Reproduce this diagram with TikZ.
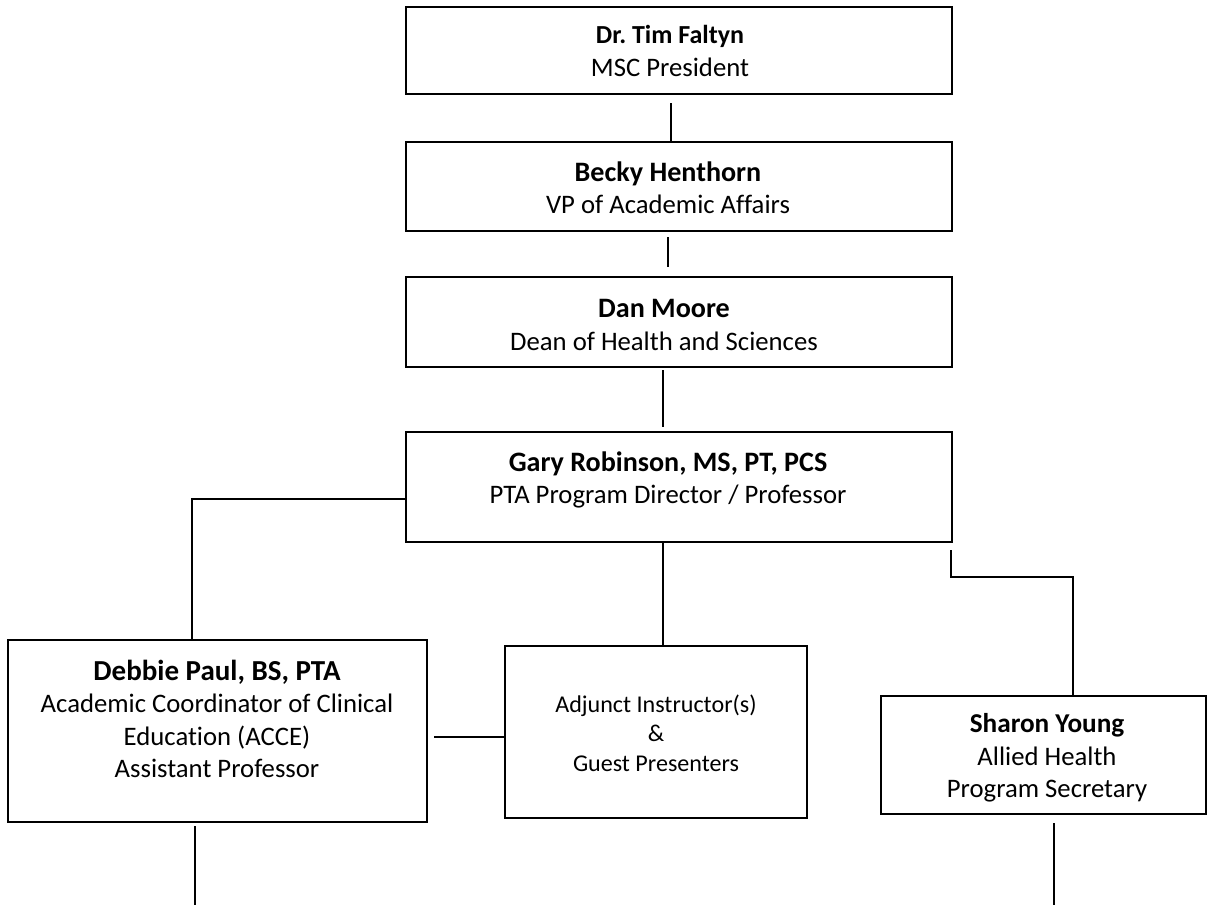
\documentclass[tikz,border=0pt]{standalone}
\usepackage{fontspec}
\setmainfont{Carlito}[Ligatures={NoCommon}]
\usetikzlibrary{fit}
\frenchspacing
\begin{document}
\begin{tikzpicture}[x=0.02cm,y=-0.02cm,
  box/.style={draw, line width=1.2pt, inner sep=0pt},
  conn/.style={line width=1.1pt},
  txt/.style={align=center, inner sep=0pt, font=\fontsize{15.2}{18.4}\selectfont},
  small/.style={align=center, inner sep=0pt, font=\fontsize{13.7}{16.8}\selectfont}]
\useasboundingbox (0,0) rectangle (1208,905);
% boxes
\node[box, fit={(406,7) (952,94)}] (b1) {};
\node[box, fit={(406,142) (952,231)}] (b2) {};
\node[box, fit={(406,277) (952,367)}] (b3) {};
\node[box, fit={(406,432) (952,542)}] (b4) {};
\node[box, fit={(8,640) (427,822)}] (b5) {};
\node[box, fit={(505,646) (807,818)}] (b6) {};
\node[box, fit={(881,696) (1206,814)}] (b7) {};
% texts
\node[txt] (t1) at (670,51) {{\fontsize{14.8}{18.4}\selectfont\bfseries Dr. Tim Faltyn}\\MSC President};
\node[txt] (t2) at (668,188) {{\fontsize{16}{18.4}\selectfont\bfseries Becky Henthorn}\\VP of Academic Affairs};
\node[txt] (t3) at (664,325) {{\fontsize{16}{18.4}\selectfont\bfseries Dan Moore}\\Dean of Health and Sciences};
\node[txt] (t4) at (668,480) {{\fontsize{16}{18.4}\selectfont\bfseries Gary Robinson, MS, PT, PCS}\\PTA Program Director / Professor};
\node[txt] (t5) at (217,719) {{\fontsize{16.5}{18.4}\selectfont\bfseries Debbie Paul, BS, PTA}\\Academic Coordinator of Clinical\\Education (ACCE)\\Assistant Professor};
\node[small] (t6) at (656,733) {Adjunct Instructor(s)\\\&\\Guest Presenters};
\node[txt] (t7) at (1047,758) {{\fontsize{15.5}{18.4}\selectfont\bfseries Sharon Young}\\Allied Health\\Program Secretary};
% connector coordinates
\coordinate (l1) at (671,0);
\coordinate (l2) at (668,0);
\coordinate (l3) at (663,0);
\coordinate (lx) at (192,499);
\coordinate (ay) at (0,737);
\coordinate (rc) at (951,577);
\coordinate (rc2) at (1073,577);
\coordinate (d1) at (195,905);
\coordinate (d2) at (1054,905);
% connectors
\draw[conn, shorten <=0.16cm] (b1.south -| l1) -- (b2.north -| l1);
\draw[conn, shorten <=0.1cm, shorten >=0.18cm] (b2.south -| l2) -- (b3.north -| l2);
\draw[conn, shorten <=0.04cm, shorten >=0.08cm] (b3.south -| l3) -- (b4.north -| l3);
\draw[conn] (b4.west |- lx) -- (lx) -- (b5.north -| lx);
\draw[conn] (b4.south -| l3) -- (b6.north -| l3);
\draw[conn, shorten <=0.12cm] (b5.east |- ay) -- (b6.west |- ay);
\draw[conn] ([yshift=-0.14cm]b4.south -| rc) -- (rc) -- (rc2) -- (b7.north -| rc2);
\draw[conn, shorten <=0.06cm] (b5.south -| d1) -- (d1);
\draw[conn, shorten <=0.16cm] (b7.south -| d2) -- (d2);
\end{tikzpicture}
\end{document}
